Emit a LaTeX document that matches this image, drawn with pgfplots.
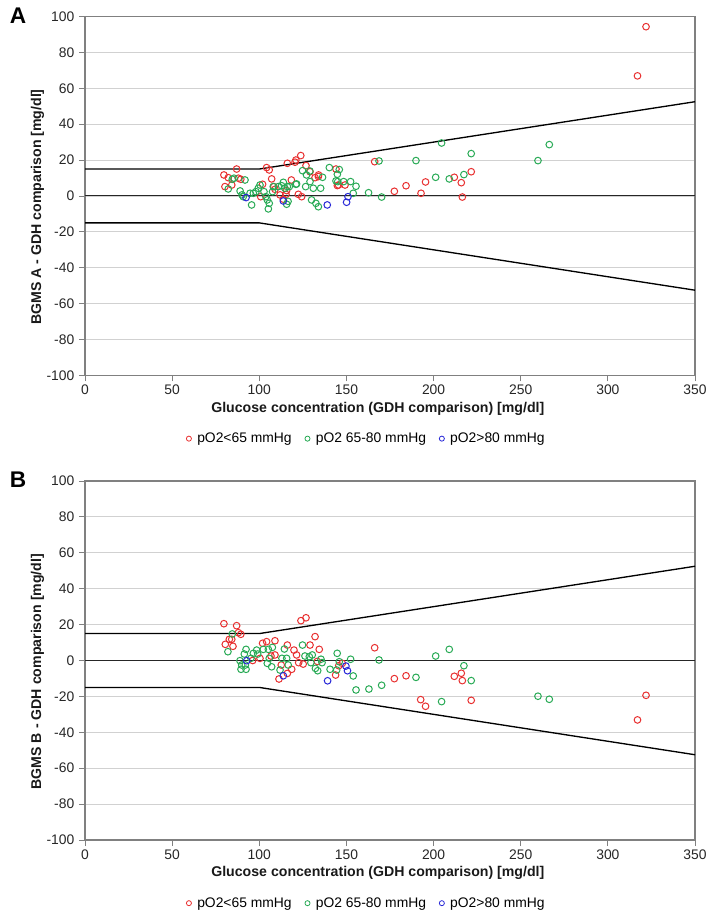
\documentclass[border=0pt]{standalone}
\usepackage{pgfplots}
\pgfplotsset{compat=1.18}
\usepackage{fontspec}
\setmainfont{Liberation Sans}
\definecolor{cred}{RGB}{232,48,48}
\definecolor{cgreen}{RGB}{40,170,85}
\definecolor{cblue}{RGB}{40,40,215}
\pgfplotsset{
  baa/.style={
    scale only axis, width=457.5pt, height=269.25pt,
    xmin=0, xmax=350, ymin=-100, ymax=100,
    xtick={0,50,...,350}, xticklabels={0,50,100,150,200,250,300,350},
    ytick={-100,-80,...,100}, yticklabels={{-100},{-80},{-60},{-40},{-20},0,20,40,60,80,100},
    ymajorgrids, grid style={black!18, line width=0.6pt},
    axis line style={black!50, line width=0.8pt},
    tick align=outside, xtick pos=bottom, ytick pos=left,
    major tick length=4.5pt, tick style={black!50, line width=0.6pt},
    ticklabel style={font=\fontsize{10.4}{12}\selectfont, text=black!85},
    xticklabel style={yshift=1pt},
    label style={font=\bfseries\fontsize{10.6}{12}\selectfont, text=black!90},
    xlabel={Glucose concentration (GDH comparison) [mg/dl]},
    xlabel style={at={(axis description cs:0.48,-0.092)}, anchor=center},
    ylabel style={at={(axis description cs:-0.078,0.469)}, anchor=center, rotate=0},
    legend columns=3,
    legend style={draw=none, fill=none, font=\fontsize{10.4}{12}\selectfont,
      at={(axis description cs:0.461,-0.176)}, anchor=center,
      /tikz/every even column/.append style={column sep=7pt}},
    legend image code/.code={\path[draw=none, fill=none, opacity=0] (0.05cm,0cm) rectangle (0.3cm,0.01cm); \draw[mark size=1.9pt, line width=0.6pt, mark options={#1}] plot coordinates {(0.15cm,0cm)};},
    legend cell align=left,
    clip=false,
  },
  lim/.style={black, line width=1pt, forget plot},
  zl/.style={black!85, line width=0.8pt, forget plot},
  pr/.style={only marks, mark=o, mark size=2.5pt, mark options={line width=0.75pt, draw=cred}, color=cred},
  pg/.style={only marks, mark=o, mark size=2.5pt, mark options={line width=0.75pt, draw=cgreen}, color=cgreen},
  pb/.style={only marks, mark=o, mark size=2.5pt, mark options={line width=0.75pt, draw=cblue}, color=cblue},
}
\begin{document}
\begin{tikzpicture}
\path (0,0) rectangle (531.75pt,687pt);
\node[font=\bfseries\fontsize{17}{19}\selectfont] at (13.5pt,675.5pt) {A};
\node[font=\bfseries\fontsize{17}{19}\selectfont] at (13.5pt,327pt) {B};
% ---------------- Panel A
\begin{axis}[baa, at={(63.75pt,405.4pt)}, anchor=south west,
  ylabel={BGMS A - GDH comparison [mg/dl]}]
\addplot[zl] coordinates {(0,0) (350,0)};
\addplot[lim] coordinates {(0,15) (100,15) (350,52.5)};
\addplot[lim] coordinates {(0,-15) (100,-15) (350,-52.5)};
\addplot[pr] table {
x y
79.7 11.7
80.3 5.2
82.2 10.2
84.2 6.1
87.0 15.0
88.0 9.9
89.4 9.3
100.8 -0.4
101.9 6.5
104.2 15.8
105.7 14.5
107.1 9.5
108.4 5.2
109.0 3.7
111.9 0.6
113.8 -1.8
115.3 0.9
115.7 3.0
118.4 8.9
116.1 18.2
120.5 18.8
121.0 20.0
123.8 22.5
126.8 16.9
129.1 13.5
122.4 0.9
124.3 -0.4
132.0 10.2
133.9 10.8
134.0 11.7
144.0 15.0
144.8 5.8
145.5 6.1
149.2 6.1
166.2 19.1
177.5 2.6
184.2 5.7
192.8 1.5
195.4 7.8
211.9 10.4
215.9 7.4
216.5 -0.6
221.6 13.5
317.0 66.9
321.9 94.3
};
\addlegendentry{pO2<65 mmHg}
\addplot[pg] table {
x y
82.2 3.9
84.5 9.3
85.5 9.9
91.8 8.9
89.0 2.8
90.1 0.6
90.8 -0.4
95.6 -5.0
94.7 1.5
96.6 1.5
98.1 2.4
99.4 4.3
100.4 6.1
102.7 2.4
103.8 -0.4
104.6 -2.2
105.7 -4.1
105.2 -7.2
107.6 2.4
108.0 5.2
110.9 5.2
112.8 5.7
113.8 7.6
114.7 4.3
116.1 5.2
117.2 5.2
115.7 -4.6
116.5 -3.0
121.0 6.5
121.4 6.7
124.8 14.1
127.1 11.7
129.0 13.9
126.6 5.2
129.1 8.0
131.0 4.3
130.0 -2.2
132.5 -4.1
133.9 -6.0
135.2 4.3
136.3 10.4
140.2 15.8
144.8 12.1
144.0 8.4
145.9 14.7
145.0 8.0
148.4 8.0
152.4 8.0
155.5 5.4
153.9 1.5
162.7 1.8
168.7 19.5
170.2 -0.6
189.9 19.7
201.2 10.4
204.6 29.5
209.0 9.5
217.4 11.9
221.6 23.6
259.9 19.7
266.4 28.6
};
\addlegendentry{pO2 65-80 mmHg}
\addplot[pb] table {
x y
92.4 -0.9
113.8 -2.8
139.0 -5.0
150.9 -0.4
150.1 -3.5
};
\addlegendentry{pO2>80 mmHg}
\end{axis}
% ---------------- Panel B
\begin{axis}[baa, at={(63.75pt,57pt)}, anchor=south west,
  ylabel={BGMS B - GDH comparison [mg/dl]}]
\addplot[zl] coordinates {(0,0) (350,0)};
\addplot[lim] coordinates {(0,15) (100,15) (350,52.5)};
\addplot[lim] coordinates {(0,-15) (100,-15) (350,-52.5)};
\addplot[pr] table {
x y
79.7 20.5
87.0 19.4
88.0 15.5
89.4 14.6
82.8 11.8
84.2 11.8
80.5 9.0
84.9 7.9
96.2 0.0
100.4 1.2
101.9 9.6
104.2 10.5
109.0 11.0
106.7 2.5
109.0 3.1
111.3 -10.3
112.6 -2.5
116.1 8.6
116.1 -7.2
118.6 -4.9
119.9 5.8
121.4 3.1
122.6 -1.2
125.2 -2.0
123.9 22.2
126.8 23.8
129.1 8.6
132.0 13.3
134.4 6.2
133.3 -0.5
143.8 -8.1
145.6 -2.9
147.6 -1.6
166.2 7.1
177.5 -10.1
184.2 -8.5
192.6 -21.8
195.4 -25.5
211.9 -8.8
215.9 -7.1
216.5 -11.2
221.6 -22.2
317.0 -33.1
321.9 -19.4
};
\addlegendentry{pO2<65 mmHg}
\addplot[pg] table {
x y
84.5 14.8
82.0 4.9
88.9 -0.1
89.9 -2.5
89.5 -4.9
92.4 -4.9
92.0 -2.5
92.4 6.2
91.4 3.6
95.2 1.2
96.6 4.0
98.5 5.8
99.1 3.6
102.3 6.2
105.2 6.2
107.5 7.3
104.6 -1.6
107.1 -3.5
105.7 1.2
111.9 -5.3
114.4 6.4
113.0 1.2
115.7 1.2
116.6 -2.5
124.8 8.6
126.2 2.5
128.7 2.1
129.6 -1.2
130.4 3.1
132.2 -4.4
133.5 -5.7
135.4 0.7
136.0 -1.2
140.6 -4.9
144.7 4.0
145.9 -0.7
144.4 -5.3
152.4 0.7
153.9 -8.6
155.5 -16.4
162.9 -15.9
168.7 0.3
170.2 -13.8
189.9 -9.4
201.2 2.5
204.6 -22.9
209.0 6.2
217.4 -2.9
221.6 -11.2
259.9 -19.9
266.4 -21.6
};
\addlegendentry{pO2 65-80 mmHg}
\addplot[pb] table {
x y
92.8 -0.1
113.8 -8.5
139.2 -11.3
149.7 -3.1
150.6 -5.7
};
\addlegendentry{pO2>80 mmHg}
\end{axis}
\end{tikzpicture}
\end{document}
